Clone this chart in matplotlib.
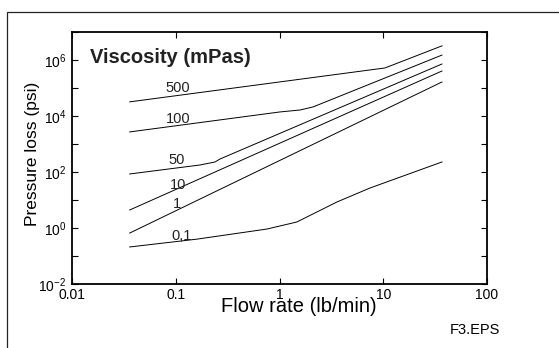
import matplotlib
matplotlib.use('Agg')
import matplotlib.pyplot as plt
from matplotlib.patches import Rectangle

plt.rcParams['font.family'] = ['Liberation Sans', 'DejaVu Sans']

# flow rate (lb/min) and pressure loss (psi) per viscosity curve
x_500 = [0.036, 10.4, 36.8]
y_500 = [3.2e4, 5.2e5, 3.2e6]

x_100 = [0.036, 1.0, 1.58, 2.1, 36.8]
y_100 = [2.7e3, 1.39e4, 1.64e4, 2.1e4, 1.5e6]

x_50 = [0.036, 0.171, 0.239, 0.267, 36.8]
y_50 = [85, 178, 228, 291, 7.2e5]

x_10 = [0.036, 36.8]
y_10 = [4.4, 4.05e5]

x_1 = [0.036, 36.8]
y_1 = [0.66, 1.64e5]

x_01 = [0.036, 0.16, 0.759, 1.47, 3.58, 7.45, 36.8]
y_01 = [0.21, 0.40, 0.92, 1.64, 8.5, 26.8, 228]

curve_labels = ['500', '100', '50', '10', '1', '0,1']
label_x = [0.105, 0.105, 0.103, 0.105, 0.103, 0.115]
label_y = [1e5, 7.8e3, 2.7e2, 34, 7.2, 0.52]

xticks = [0.01, 0.1, 1, 10, 100]
xticklabels = ['0.01', '0.1', '1', '10', '100']
yticks = [1e-2, 1e-1, 1e0, 1e1, 1e2, 1e3, 1e4, 1e5, 1e6, 1e7]
yticklabels = [r'$\mathdefault{10^{-2}}$', '', r'$\mathdefault{10^{0}}$', '',
               r'$\mathdefault{10^{2}}$', '', r'$\mathdefault{10^{4}}$', '',
               r'$\mathdefault{10^{6}}$', '']

fig = plt.figure(figsize=(5.59, 3.48), dpi=100)
fig.add_artist(Rectangle((7 / 559, -0.5), 2, 1.5 - 12 / 348, transform=fig.transFigure,
                         fill=False, edgecolor='#222222', linewidth=0.9))

ax = fig.add_axes([72 / 559, 1 - 284 / 348, 415 / 559, 252 / 348])
ax.set_xscale('log')
ax.set_yscale('log')

for xs, ys in [(x_500, y_500), (x_100, y_100), (x_50, y_50),
               (x_10, y_10), (x_1, y_1), (x_01, y_01)]:
    ax.plot(xs, ys, color='black', linewidth=0.7)

for t, lx, ly in zip(curve_labels, label_x, label_y):
    ax.text(lx, ly, t, fontsize=10.5, ha='center', va='center', color='#222222')

ax.set_xlim(0.01, 100)
ax.set_ylim(1e-2, 1e7)
ax.set_xticks(xticks)
ax.set_xticklabels(xticklabels)
ax.set_yticks(yticks)
ax.set_yticklabels(yticklabels)
ax.minorticks_off()
ax.tick_params(direction='in', top=True, right=True, length=4, width=0.8,
               labelsize=10, pad=3)
ax.tick_params(axis='y', pad=4)
for s in ax.spines.values():
    s.set_linewidth(1.3)

ax.text(0.043, 0.9, 'Viscosity (mPas)', transform=ax.transAxes, fontsize=14.5,
        fontweight='bold', va='center', ha='left', color='#222222')

ax.set_xlabel('Flow rate (lb/min)', fontsize=14.5, va='center')
ax.xaxis.set_label_coords(227 / 415, -22 / 252)
ax.set_ylabel('Pressure loss (psi)', fontsize=12.5, va='center')
ax.yaxis.set_label_coords(-39 / 415, 0.5 + (158 - 154) / 252)

fig.text(500 / 559, 1 - 330 / 348, 'F3.EPS', fontsize=10.5, ha='right', va='center')

fig.savefig('out.png', dpi=100)
